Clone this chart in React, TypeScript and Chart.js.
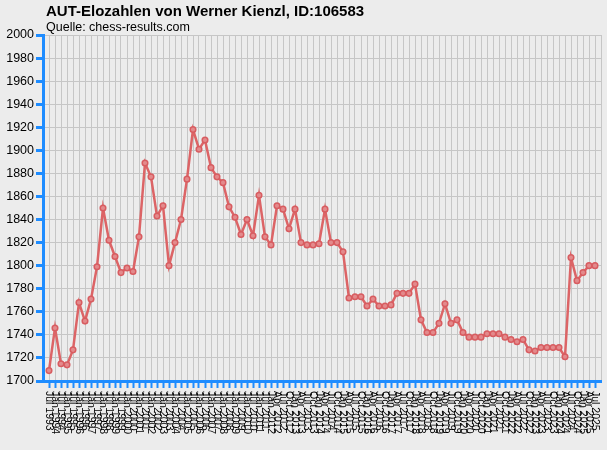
import React, { useEffect, useRef } from 'react';
import { Chart, registerables } from 'chart.js';

Chart.register(...registerables);

const TITLE = 'AUT-Elozahlen von Werner Kienzl, ID:106583';
const SUBTITLE = 'Quelle: chess-results.com';

const DATES: string[] = [
  'Jul 1993', 'Jan 1994', 'Jul 1994', 'Jan 1995', 'Jul 1995', 'Jan 1996', 'Jul 1996', 'Jan 1997',
  'Jul 1997', 'Jan 1998', 'Jul 1998', 'Jan 1999', 'Jul 1999', 'Jan 2000', 'Jul 2000', 'Jan 2001',
  'Jul 2001', 'Jan 2002', 'Jul 2002', 'Jan 2003', 'Jul 2003', 'Jan 2004', 'Jul 2004', 'Jan 2005',
  'Jul 2005', 'Jan 2006', 'Jul 2006', 'Jan 2007', 'Jul 2007', 'Jan 2008', 'Jul 2008', 'Jan 2009',
  'Jul 2009', 'Jan 2010', 'Jul 2010', 'Jan 2011', 'Jul 2011', 'Jan 2012',
  'Apr 2012', 'Jul 2012', 'Oct 2012', 'Jan 2013', 'Apr 2013', 'Jul 2013', 'Oct 2013',
  'Jan 2014', 'Apr 2014', 'Jul 2014', 'Oct 2014', 'Jan 2015', 'Apr 2015', 'Jul 2015', 'Oct 2015',
  'Jan 2016', 'Apr 2016', 'Jul 2016', 'Oct 2016', 'Jan 2017', 'Apr 2017', 'Jul 2017', 'Oct 2017',
  'Jan 2018', 'Apr 2018', 'Jul 2018', 'Oct 2018', 'Jan 2019', 'Apr 2019', 'Jul 2019', 'Oct 2019',
  'Jan 2020', 'Apr 2020', 'Jul 2020', 'Oct 2020', 'Jan 2021', 'Apr 2021', 'Jul 2021', 'Oct 2021',
  'Jan 2022', 'Apr 2022', 'Jul 2022', 'Oct 2022', 'Jan 2023', 'Apr 2023', 'Jul 2023', 'Oct 2023',
  'Jan 2024', 'Apr 2024', 'Jul 2024', 'Oct 2024', 'Jan 2025', 'Apr 2025', 'Jul 2025',
];

const ELO: number[] = [
  1709, 1746, 1715, 1714, 1727, 1768, 1752, 1771, 1799, 1850,
  1822, 1808, 1794, 1798, 1795, 1825, 1889, 1877, 1843, 1852,
  1800, 1820, 1840, 1875, 1918, 1901, 1909, 1885, 1877, 1872,
  1851, 1842, 1827, 1840, 1826, 1861, 1825, 1818, 1852, 1849,
  1832, 1849, 1820, 1818, 1818, 1819, 1849, 1820, 1820, 1812,
  1772, 1773, 1773, 1765, 1771, 1765, 1765, 1766, 1776, 1776,
  1776, 1784, 1753, 1742, 1742, 1750, 1767, 1750, 1753, 1742,
  1738, 1738, 1738, 1741, 1741, 1741, 1738, 1736, 1734, 1736,
  1727, 1726, 1729, 1729, 1729, 1729, 1721, 1807, 1787, 1794,
  1800, 1800,
];

const Y_MIN = 1700;
const Y_MAX = 2000;
const Y_STEP = 20;

const BLUE = '#1e8cff';
const GRID = '#c6c6c6';
const BG = '#ececec';
const LINE = '#dc6466';
const FONT = '"Liberation Sans", Arial, Helvetica, sans-serif';

export default function App() {
  const ref = useRef<HTMLCanvasElement>(null);

  useEffect(() => {
    if (!ref.current) return;
    const labels = ['', ...DATES, ''];
    const data = [null, ...ELO, null];
    const lastIdx = labels.length - 1;

    const textPlugin = {
      id: 'textPlugin',
      beforeDraw(chart: any) {
        const ctx = chart.ctx;
        ctx.save();
        ctx.fillStyle = BG;
        ctx.fillRect(0, 0, chart.width, chart.height);
        ctx.restore();
      },
      afterDraw(chart: any) {
        const ctx = chart.ctx;
        ctx.save();
        ctx.fillStyle = '#000';
        ctx.textAlign = 'left';
        ctx.textBaseline = 'alphabetic';
        ctx.font = `bold 15px ${FONT}`;
        ctx.fillText(TITLE, 46, 16);
        ctx.font = `12.5px ${FONT}`;
        ctx.fillText(SUBTITLE, 46, 31);
        const xs = chart.scales.x;
        ctx.font = `10.5px ${FONT}`;
        ctx.textBaseline = 'middle';
        for (let i = 0; i < DATES.length; i++) {
          const x = xs.getPixelForValue(i + 1);
          ctx.save();
          ctx.translate(x, chart.chartArea.bottom + 10);
          ctx.rotate(Math.PI / 2);
          ctx.fillText(DATES[i], 0, 0);
          ctx.restore();
        }
        ctx.restore();
      },
    };

    const chart = new Chart(ref.current, {
      type: 'line',
      data: {
        labels,
        datasets: [
          {
            data,
            borderColor: LINE,
            borderWidth: 2.5,
            pointRadius: 2.8,
            pointBorderWidth: 1.5,
            pointBackgroundColor: '#e38a8c',
            pointBorderColor: '#d85c60',
            tension: 0,
            spanGaps: false,
          },
        ],
      },
      options: {
        responsive: false,
        animation: false,
        devicePixelRatio: 1,
        layout: { padding: { top: 35, right: 6, left: 0, bottom: 0 } },
        plugins: {
          legend: { display: false },
          title: { display: false },
          tooltip: { enabled: false },
        },
        scales: {
          x: {
            type: 'category',
            offset: false,
            grid: {
              color: GRID,
              lineWidth: 1,
              tickColor: (c: any) => (c.index === 0 || c.index === lastIdx ? 'rgba(0,0,0,0)' : BLUE),
              tickWidth: 2,
              tickLength: 7,
            },
            border: { color: BLUE, width: 3 },
            ticks: { display: false, autoSkip: false },
            afterFit: (s: any) => {
              s.height = 69;
            },
          },
          y: {
            min: Y_MIN,
            max: Y_MAX,
            grid: {
              color: GRID,
              lineWidth: 1,
              tickColor: BLUE,
              tickWidth: 3,
              tickLength: 7,
            },
            border: { color: BLUE, width: 3 },
            ticks: {
              stepSize: Y_STEP,
              color: '#000',
              padding: 2,
              font: { family: FONT, size: 12.5 },
              callback: (v: any) => String(v),
            },
            afterFit: (s: any) => {
              s.width = 43;
            },
          },
        },
      },
      plugins: [textPlugin],
    });

    return () => chart.destroy();
  }, []);

  return (
    <div style={{ position: 'fixed', left: 0, top: 0, width: 607, height: 450, background: BG }}>
      <canvas ref={ref} width={607} height={450} style={{ display: 'block' }} />
    </div>
  );
}
